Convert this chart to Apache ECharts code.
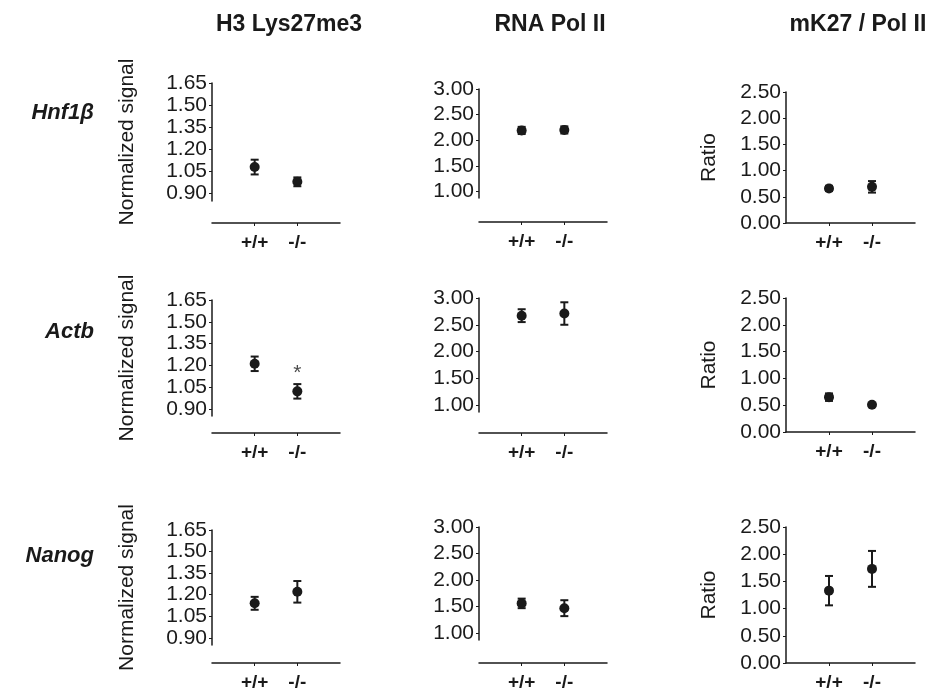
<!DOCTYPE html>
<html>
<head>
<meta charset="utf-8">
<script src="https://cdn.jsdelivr.net/npm/echarts@6/dist/echarts.min.js"></script>
<style>
  html, body { margin: 0; padding: 0; background: #fff; }
  #main { width: 937px; height: 696px; }
</style>
</head>
<body>
<div id="main"></div>
<script>
// Chart values
const rowNames = ['Hnf1β', 'Actb', 'Nanog'];
const colTitles = ['H3 Lys27me3', 'RNA Pol II', 'mK27 / Pol II'];
const genotypes = ['+/+', '-/-'];
const yNames = ['Normalized signal', '', 'Ratio'];

const h3Ticks = [0.90, 1.05, 1.20, 1.35, 1.50, 1.65];
const polTicks = [1.00, 1.50, 2.00, 2.50, 3.00];
const ratioTicks = [0.00, 0.50, 1.00, 1.50, 2.00, 2.50];

// rows: Hnf1b, Actb, Nanog ; columns: +/+, -/-
const h3Mean = [[1.08, 0.98], [1.21, 1.02], [1.14, 1.22]];
const h3Err = [[0.05, 0.03], [0.05, 0.05], [0.045, 0.075]];
const polMean = [[2.19, 2.20], [2.67, 2.71], [1.56, 1.47]];
const polErr = [[0.07, 0.07], [0.12, 0.21], [0.09, 0.15]];
const ratioMean = [[0.66, 0.69], [0.65, 0.51], [1.33, 1.73]];
const ratioErr = [[0.05, 0.11], [0.07, 0.03], [0.27, 0.33]];

// significance marks: [row, col, genotype index, value]
const asterisks = [[1, 0, 1, 1.18]];

const means = [h3Mean, polMean, ratioMean];
const errs = [h3Err, polErr, ratioErr];
const ticks = [h3Ticks, polTicks, ratioTicks];
const yMin = [0.85, 0.87, 0];
const yMax = [1.65, 3.0, 2.5];

// layout (pixels)
const colLeft = [212, 479, 786];
const colWidth = [128, 128, 129];
const panelTop = [[83, 89, 92], [300, 298, 298], [530, 527, 527]];
const panelHeight = [[118, 109, 131], [116, 114, 134], [115, 113, 136]];
const xOffset = [[22, 24, 0], [17, 21, 0], [18, 23, 0]];
const nameGap = [74, 0, 66];
const headerX = [289, 550, 858];
const rowLabelY = [113, 332, 556];

const font = '"Liberation Sans", Arial, sans-serif';
const ink = '#1a1a1a';

const grids = [], xAxes = [], yAxes = [], series = [];

function errorBar(params, api) {
    var x = api.value(0);
    var top = api.coord([x, api.value(2)]);
    var bot = api.coord([x, api.value(1)]);
    var w = 4;
    var st = { stroke: ink, lineWidth: 2 };
    return {
        type: 'group',
        children: [
            { type: 'line', shape: { x1: top[0], y1: top[1], x2: bot[0], y2: bot[1] }, style: st },
            { type: 'line', shape: { x1: top[0] - w, y1: top[1], x2: top[0] + w, y2: top[1] }, style: st },
            { type: 'line', shape: { x1: bot[0] - w, y1: bot[1], x2: bot[0] + w, y2: bot[1] }, style: st }
        ]
    };
}

for (let r = 0; r < 3; r++) {
    for (let c = 0; c < 3; c++) {
        const i = grids.length;
        grids.push({
            left: colLeft[c], top: panelTop[r][c],
            width: colWidth[c], height: panelHeight[r][c]
        });
        xAxes.push({
            type: 'value', gridIndex: i, min: 0, max: 3,
            offset: xOffset[r][c],
            axisLine: { show: true, lineStyle: { color: ink, width: 1.5 } },
            axisTick: { show: true, length: 3, customValues: [1, 2], lineStyle: { color: ink } },
            axisLabel: {
                customValues: [1, 2], margin: 10,
                formatter: v => genotypes[v - 1],
                color: ink, fontSize: 19, fontWeight: 'bold', fontFamily: font
            },
            splitLine: { show: false }
        });
        yAxes.push({
            type: 'value', gridIndex: i, min: yMin[c], max: yMax[c],
            name: yNames[c], nameLocation: 'middle', nameGap: nameGap[c],
            nameTextStyle: { color: ink, fontSize: 21, fontFamily: font },
            axisLine: { show: true, lineStyle: { color: ink, width: 1.5 } },
            axisTick: { show: true, length: 3, customValues: ticks[c], lineStyle: { color: ink } },
            axisLabel: {
                customValues: ticks[c], margin: 5,
                formatter: v => v.toFixed(2),
                color: ink, fontSize: 21, fontFamily: font
            },
            splitLine: { show: false }
        });
        const m = means[c][r], e = errs[c][r];
        series.push({
            type: 'custom', xAxisIndex: i, yAxisIndex: i,
            renderItem: errorBar, z: 2,
            data: m.map((v, k) => [k + 1, v - e[k], v + e[k]])
        });
        series.push({
            type: 'scatter', xAxisIndex: i, yAxisIndex: i,
            symbol: 'circle', symbolSize: 10, z: 3,
            itemStyle: { color: ink, opacity: 1 },
            data: m.map((v, k) => [k + 1, v])
        });
    }
}

asterisks.forEach(a => {
    const i = a[0] * 3 + a[1];
    series.push({
        type: 'scatter', xAxisIndex: i, yAxisIndex: i,
        symbolSize: 0,
        label: {
            show: true, position: 'inside', formatter: '*', offset: [0, 5],
            color: ink, fontSize: 21, fontFamily: font
        },
        data: [[a[2] + 1, a[3]]]
    });
});

const graphics = [];
colTitles.forEach((t, c) => {
    graphics.push({
        type: 'text', x: headerX[c], y: 25,
        style: {
            text: t, font: 'bold 23px ' + font, fill: ink,
            align: 'center', verticalAlign: 'middle',
            textAlign: 'center', textVerticalAlign: 'middle'
        }
    });
});
rowNames.forEach((t, r) => {
    graphics.push({
        type: 'text', x: 94, y: rowLabelY[r],
        style: {
            text: t, font: 'italic bold 22px ' + font, fill: ink,
            align: 'right', verticalAlign: 'middle',
            textAlign: 'right', textVerticalAlign: 'middle'
        }
    });
});

const chart = echarts.init(document.getElementById('main'));
chart.setOption({
    backgroundColor: '#fff',
    animation: false,
    grid: grids,
    xAxis: xAxes,
    yAxis: yAxes,
    series: series,
    graphic: graphics
});
</script>
</body>
</html>
